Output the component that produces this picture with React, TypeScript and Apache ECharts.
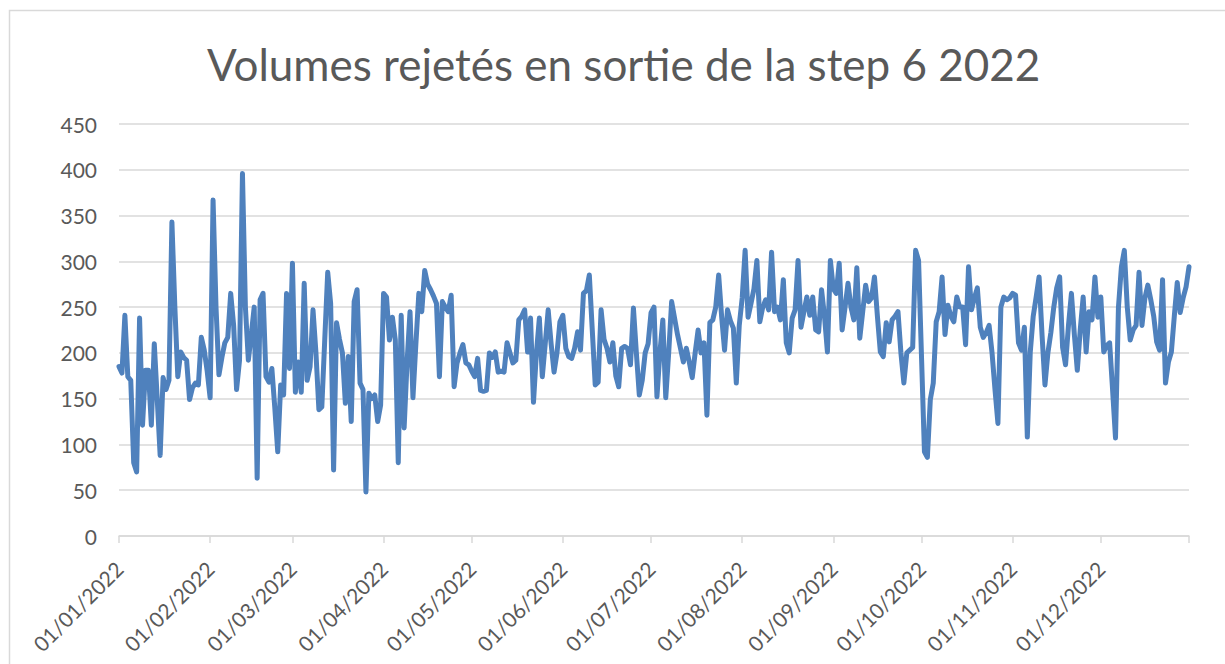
import React, { useEffect, useRef } from "react";
import * as echarts from "echarts";

const TITLE = "Volumes rejetés en sortie de la step 6 2022";
const YEAR = 2022;
const MONTH_LENGTHS = [31, 28, 31, 30, 31, 30, 31, 31, 30, 31, 30, 31];

const jan = [185, 178, 241, 174, 170, 80, 70, 238, 121, 181, 181, 121, 210, 150, 88, 173, 160, 170, 343, 250, 174, 201, 195, 192, 149, 162, 167, 165, 217, 203, 180];
const feb = [151, 367, 250, 176, 195, 211, 217, 265, 230, 160, 192, 396, 250, 192, 220, 250, 63, 258, 265, 174, 168, 183, 140, 92, 165, 154, 265, 183];
const mar = [298, 157, 190, 157, 276, 170, 185, 247, 200, 138, 141, 215, 288, 254, 72, 233, 215, 200, 145, 196, 125, 256, 269, 167, 160, 48, 156, 150, 154, 125, 143];
const apr = [265, 261, 214, 239, 214, 80, 241, 118, 190, 245, 151, 210, 265, 245, 290, 275, 269, 262, 254, 174, 256, 250, 245, 263, 163, 189, 200, 209, 189, 187];
const may = [180, 174, 194, 159, 158, 159, 200, 195, 201, 179, 180, 179, 211, 200, 189, 192, 236, 240, 247, 201, 238, 146, 200, 238, 174, 210, 247, 210, 179, 200, 234];
const jun = [241, 205, 196, 194, 205, 223, 203, 265, 268, 285, 225, 165, 168, 247, 215, 205, 190, 211, 175, 163, 205, 207, 205, 187, 249, 200, 154, 170, 200, 210];
const jul = [244, 250, 152, 200, 236, 151, 200, 256, 238, 220, 205, 190, 205, 190, 173, 200, 225, 200, 211, 132, 233, 236, 250, 285, 240, 203, 247, 235, 227, 167, 230];
const aug = [260, 312, 239, 254, 270, 301, 234, 250, 258, 247, 310, 245, 250, 236, 280, 211, 200, 238, 247, 301, 228, 245, 261, 241, 261, 225, 223, 269, 240, 201, 301];
const sep = [270, 265, 298, 225, 250, 276, 250, 236, 293, 216, 245, 274, 256, 260, 283, 240, 201, 196, 233, 212, 236, 240, 245, 200, 167, 200, 203, 206, 312, 301];
const oct = [196, 92, 86, 149, 167, 234, 245, 283, 220, 252, 240, 234, 261, 250, 250, 209, 294, 247, 260, 271, 228, 217, 222, 230, 200, 160, 123, 250, 261, 258, 260];
const nov = [265, 263, 211, 203, 228, 108, 201, 240, 261, 283, 220, 165, 200, 222, 250, 271, 283, 206, 187, 230, 265, 220, 181, 225, 261, 201, 245, 236, 283, 239];
const dec = [261, 201, 208, 211, 160, 107, 250, 294, 312, 250, 214, 225, 230, 288, 230, 260, 274, 258, 240, 212, 203, 280, 167, 190, 201, 240, 277, 244, 260, 272, 294];

const VALUES = [...jan, ...feb, ...mar, ...apr, ...may, ...jun, ...jul, ...aug, ...sep, ...oct, ...nov, ...dec];

const pad = (n: number) => (n < 10 ? "0" + n : "" + n);
const DATES: string[] = [];
MONTH_LENGTHS.forEach((len, m) => {
  for (let d = 1; d <= len; d++) DATES.push(`${pad(d)}/${pad(m + 1)}/${YEAR}`);
});

const FONT = "Lato, 'Open Sans', sans-serif";
const TEXT = "#595959";
const GRID = "#D9D9D9";

export default function App() {
  const ref = useRef<HTMLDivElement>(null);
  useEffect(() => {
    if (!ref.current) return;
    const chart = echarts.init(ref.current, undefined, { renderer: "svg" });
    const last = DATES.length - 1;
    chart.setOption({
      animation: false,
      backgroundColor: "#ffffff",
      title: {
        text: TITLE,
        left: 207,
        top: 42,
        padding: 0,
        textStyle: { fontFamily: FONT, fontSize: 44, fontWeight: "normal", color: TEXT },
      },
      graphic: [
        {
          type: "rect",
          shape: { x: 9.5, y: 10.5, width: 1240, height: 700 },
          style: { fill: "none", stroke: GRID, lineWidth: 1.5 },
          silent: true,
        },
      ],
      grid: { left: 119, right: 36, top: 124, bottom: 128, containLabel: false },
      xAxis: {
        type: "category",
        data: DATES,
        boundaryGap: false,
        axisLine: { lineStyle: { color: GRID, width: 1.5 } },
        axisTick: {
          show: true,
          length: 7,
          lineStyle: { color: GRID, width: 1.5 },
          interval: (i: number, v: string) => v.startsWith("01/") || i === last,
        },
        axisLabel: {
          interval: (_i: number, v: string) => v.startsWith("01/"),
          rotate: 45,
          margin: 29,
          fontFamily: FONT,
          fontSize: 21,
          color: TEXT,
        },
        splitLine: { show: false },
      },
      yAxis: {
        type: "value",
        min: 0,
        max: 450,
        interval: 50,
        axisLine: { show: false },
        axisTick: { show: false },
        axisLabel: { fontFamily: FONT, fontSize: 21, color: TEXT, margin: 22 },
        splitLine: { lineStyle: { color: GRID, width: 1.5 } },
      },
      series: [
        {
          type: "line",
          data: VALUES,
          showSymbol: false,
          symbol: "none",
          lineStyle: { color: "#4F81BD", width: 5, cap: "round", join: "round" },
          itemStyle: { color: "#4F81BD" },
        },
      ],
    });
    return () => chart.dispose();
  }, []);
  return (
    <div
      ref={ref}
      style={{ position: "fixed", left: 0, top: 0, width: 1225, height: 664, background: "#fff" }}
    />
  );
}
